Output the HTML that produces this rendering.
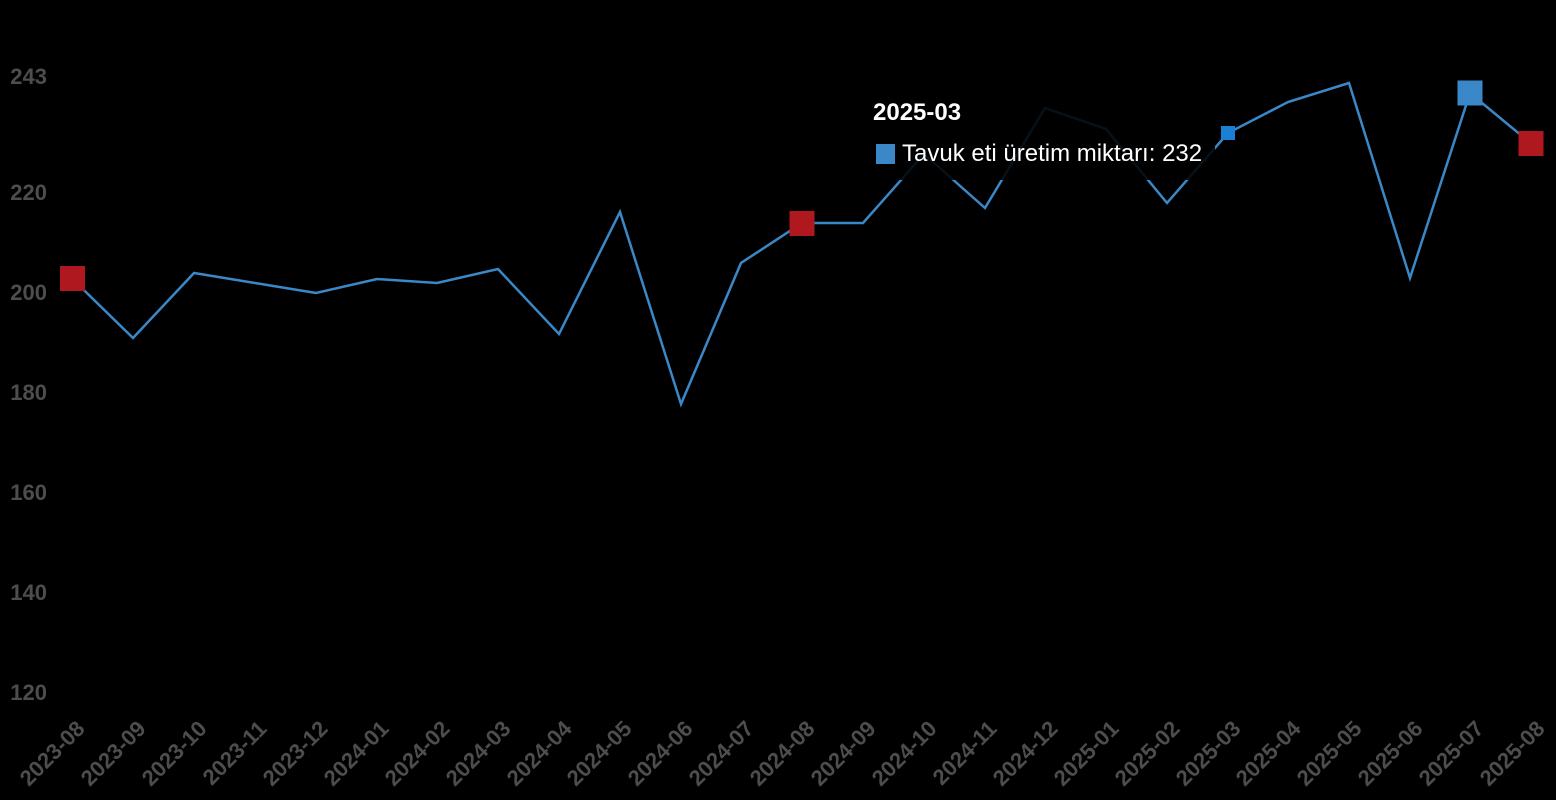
<!DOCTYPE html>
<html>
<head>
<meta charset="utf-8">
<style>
  html, body { margin:0; padding:0; background:#000; }
  body { width:1556px; height:800px; overflow:hidden; }
  svg { display:block; }
  .yl { font-family:"Liberation Sans", sans-serif; font-weight:bold; font-size:22px; fill:#4d4d4d; }
  .xl { font-family:"Liberation Sans", sans-serif; font-weight:bold; font-size:22px; fill:#4d4d4d; }
  .tt { font-family:"Liberation Sans", sans-serif; fill:#fff; }
</style>
</head>
<body>
<svg width="1556" height="800" viewBox="0 0 1556 800" xmlns="http://www.w3.org/2000/svg">
  <rect x="0" y="0" width="1556" height="800" fill="#000"/>

  <!-- Y axis labels -->
  <text class="yl" x="47" y="84" text-anchor="end">243</text>
  <text class="yl" x="47" y="200" text-anchor="end">220</text>
  <text class="yl" x="47" y="300" text-anchor="end">200</text>
  <text class="yl" x="47" y="400" text-anchor="end">180</text>
  <text class="yl" x="47" y="500" text-anchor="end">160</text>
  <text class="yl" x="47" y="600" text-anchor="end">140</text>
  <text class="yl" x="47" y="700" text-anchor="end">120</text>

  <!-- X axis labels -->
  <g>
    <text class="xl" text-anchor="end" transform="translate(86,730) rotate(-45)">2023-08</text>
    <text class="xl" text-anchor="end" transform="translate(147,730) rotate(-45)">2023-09</text>
    <text class="xl" text-anchor="end" transform="translate(208,730) rotate(-45)">2023-10</text>
    <text class="xl" text-anchor="end" transform="translate(268,730) rotate(-45)">2023-11</text>
    <text class="xl" text-anchor="end" transform="translate(329,730) rotate(-45)">2023-12</text>
    <text class="xl" text-anchor="end" transform="translate(390,730) rotate(-45)">2024-01</text>
    <text class="xl" text-anchor="end" transform="translate(451,730) rotate(-45)">2024-02</text>
    <text class="xl" text-anchor="end" transform="translate(512,730) rotate(-45)">2024-03</text>
    <text class="xl" text-anchor="end" transform="translate(573,730) rotate(-45)">2024-04</text>
    <text class="xl" text-anchor="end" transform="translate(633,730) rotate(-45)">2024-05</text>
    <text class="xl" text-anchor="end" transform="translate(694,730) rotate(-45)">2024-06</text>
    <text class="xl" text-anchor="end" transform="translate(755,730) rotate(-45)">2024-07</text>
    <text class="xl" text-anchor="end" transform="translate(816,730) rotate(-45)">2024-08</text>
    <text class="xl" text-anchor="end" transform="translate(877,730) rotate(-45)">2024-09</text>
    <text class="xl" text-anchor="end" transform="translate(938,730) rotate(-45)">2024-10</text>
    <text class="xl" text-anchor="end" transform="translate(998,730) rotate(-45)">2024-11</text>
    <text class="xl" text-anchor="end" transform="translate(1059,730) rotate(-45)">2024-12</text>
    <text class="xl" text-anchor="end" transform="translate(1120,730) rotate(-45)">2025-01</text>
    <text class="xl" text-anchor="end" transform="translate(1181,730) rotate(-45)">2025-02</text>
    <text class="xl" text-anchor="end" transform="translate(1242,730) rotate(-45)">2025-03</text>
    <text class="xl" text-anchor="end" transform="translate(1302,730) rotate(-45)">2025-04</text>
    <text class="xl" text-anchor="end" transform="translate(1363,730) rotate(-45)">2025-05</text>
    <text class="xl" text-anchor="end" transform="translate(1424,730) rotate(-45)">2025-06</text>
    <text class="xl" text-anchor="end" transform="translate(1485,730) rotate(-45)">2025-07</text>
    <text class="xl" text-anchor="end" transform="translate(1546,730) rotate(-45)">2025-08</text>
  </g>

  <!-- Series line -->
  <polyline fill="none" stroke="#3a88c8" stroke-width="2.5" stroke-linejoin="miter"
    points="72,278.5 133,338 194,273 255,283 316,293 377,279 437,283 498,269 559,334 620,212 681,404 741,263 802,223 863,223 924,154 985,208 1045,108 1106,129 1167,203 1228,133 1288,102 1349,83 1410,278 1470,93 1531,143.5"/>

  <!-- Markers -->
  <rect x="60" y="266" width="25" height="25" fill="#b0181f"/>
  <rect x="789.5" y="211" width="25" height="25" fill="#b0181f"/>
  <rect x="1518.5" y="131" width="25" height="25" fill="#b0181f"/>
  <rect x="1457.5" y="80.5" width="25" height="25" fill="#3a88c8"/>
  <rect x="1221" y="126" width="14" height="14" fill="#1a80d4"/>

  <!-- Tooltip -->
  <rect x="862" y="84" width="353" height="96" fill="rgba(0,0,0,0.88)"/>
  <text class="tt" x="873" y="120" font-size="24" font-weight="bold">2025-03</text>
  <rect x="876" y="144" width="19" height="20" fill="#3a88c8"/>
  <text class="tt" x="902" y="161" font-size="24">Tavuk eti üretim miktarı: 232</text>
</svg>
</body>
</html>
